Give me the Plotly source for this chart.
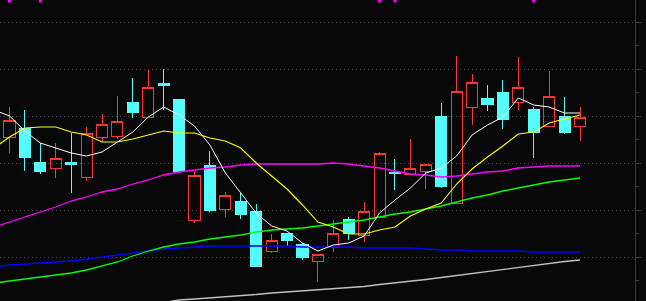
import plotly.graph_objects as go

# ---- data (price units) ----
days = list(range(38))
ma_days = list(range(-1, 38))

opens  = [18.3, 19.2, 15.8, 15.2, 15.8, 14.3, 18.3, 18.4, 21.8, 20.3,
          23.7, 22.1, 10.0, 15.5, 11.1, 11.9, 10.9, 6.9, 8.7, 7.6,
          5.9, 7.3, 10.1, 8.5, 10.3, 14.8, 14.6, 14.9, 20.4, 11.7,
          21.3, 22.2, 22.8, 21.8, 21.1, 19.4, 20.4, 19.4]
highs  = [21.3, 21.0, 17.7, 17.7, 18.7, 19.3, 20.6, 22.4, 24.2, 25.0,
          25.1, 22.1, 14.8, 16.9, 12.8, 12.7, 11.6, 8.6, 8.7, 7.7,
          6.6, 10.0, 10.3, 11.8, 16.8, 16.1, 18.1, 15.6, 21.7, 26.4,
          24.6, 23.5, 24.0, 26.3, 21.3, 24.9, 22.3, 21.3]
lows   = [16.7, 14.9, 14.6, 14.2, 12.7, 13.9, 17.8, 18.1, 20.2, 20.2,
          21.0, 14.7, 9.7, 10.8, 10.3, 10.1, 5.3, 6.7, 7.4, 6.0,
          3.8, 6.8, 8.0, 7.8, 10.3, 13.0, 14.6, 13.1, 13.2, 11.7,
          19.5, 20.9, 19.1, 21.0, 16.2, 19.4, 18.6, 17.9]
closes = [20.0, 16.3, 14.9, 16.2, 15.6, 18.7, 19.6, 19.9, 20.8, 23.3,
          23.5, 14.9, 14.5, 11.0, 12.5, 10.6, 5.4, 8.0, 8.0, 6.3,
          6.6, 8.7, 8.7, 10.9, 16.7, 14.7, 15.2, 15.6, 13.4, 22.9,
          23.8, 21.6, 20.1, 23.3, 18.8, 22.4, 18.8, 20.3]

ma5 = [21.0, 20.4, 18.9, 17.7, 17.2, 16.7, 16.4, 16.8, 17.8, 18.8, 20.3,
       21.3, 20.5, 19.4, 17.5, 14.7, 12.7, 10.7, 9.4, 8.9, 7.7,
       6.9, 7.5, 7.7, 8.4, 10.7, 12.0, 13.2, 14.7, 15.2, 16.4,
       18.5, 19.5, 20.3, 22.2, 21.5, 21.3, 20.7, 20.7]
ma10 = [17.2, 18.3, 19.2, 19.3, 19.3, 18.8, 18.5, 17.8, 17.8, 18.1, 18.5,
        18.9, 18.7, 18.7, 18.2, 17.9, 17.2, 15.7, 14.4, 13.1, 11.5,
        9.8, 9.3, 8.6, 8.6, 9.0, 9.3, 10.4, 11.1, 11.7, 13.6,
        15.1, 16.3, 17.4, 18.6, 18.8, 19.7, 20.1, 20.5]
ma20 = [9.3, 9.8, 10.3, 10.8, 11.3, 11.9, 12.3, 12.8, 13.1, 13.6, 14.0,
        14.5, 14.8, 15.0, 15.2, 15.3, 15.5, 15.6, 15.6, 15.6, 15.6,
        15.6, 15.7, 15.6, 15.4, 15.2, 14.9, 14.6, 14.5, 14.3, 14.4,
        14.6, 14.8, 14.9, 15.2, 15.3, 15.4, 15.4, 15.4]
ma60 = [3.7, 3.9, 4.1, 4.3, 4.5, 4.7, 5.0, 5.4, 5.8, 6.4, 6.9,
        7.3, 7.6, 7.8, 8.1, 8.3, 8.5, 8.8, 9.0, 9.1, 9.2,
        9.4, 9.6, 9.8, 10.0, 10.3, 10.6, 10.8, 11.1, 11.4, 11.8,
        12.2, 12.5, 12.9, 13.2, 13.5, 13.8, 14.0, 14.2]
ma120 = [5.3, 5.5, 5.6, 5.7, 5.8, 5.9, 6.1, 6.3, 6.5, 6.7, 6.9,
         7.1, 7.2, 7.3, 7.4, 7.4, 7.4, 7.4, 7.4, 7.4, 7.3,
         7.3, 7.3, 7.3, 7.2, 7.2, 7.2, 7.2, 7.1, 7.0, 7.0,
         6.9, 6.9, 6.9, 6.9, 6.8, 6.8, 6.8, 6.8]
ma250 = [None] * 11 + [1.75, 2.0, 2.1, 2.2, 2.3, 2.45, 2.55, 2.7, 2.8,
                       2.9, 3.0, 3.1, 3.2, 3.35, 3.55, 3.7, 3.85, 4.05, 4.25,
                       4.45, 4.65, 4.85, 5.1, 5.25, 5.5, 5.7, 5.85, 6.0]

signal_days = [0, 2, 24, 25, 34]
signal_level = [31.9, 31.9, 31.9, 31.9, 31.9]

# grid / tick levels
grid_start = 1.567
grid_step = 4.7

BG = "#080808"
RED = "#ff3535"
CYAN = "#54fcfc"

fig = go.Figure()
fig.add_trace(go.Candlestick(
    x=days, open=opens, high=highs, low=lows, close=closes,
    increasing=dict(line=dict(color=RED, width=1), fillcolor="rgba(0,0,0,0)"),
    decreasing=dict(line=dict(color=CYAN, width=1), fillcolor=CYAN),
    whiskerwidth=0, hoverinfo="skip", showlegend=False,
))

lines = [
    (ma250, "#c0c0c0", 1.3),
    (ma120, "#0000ff", 1.4),
    (ma60, "#00ff00", 1.3),
    (ma20, "#ff00ff", 1.3),
    (ma10, "#ffff00", 1.1),
    (ma5, "#ffffff", 1.0),
]
for vals, col, w in lines:
    fig.add_trace(go.Scatter(x=ma_days, y=vals, mode="lines",
                             line=dict(color=col, width=w),
                             hoverinfo="skip", showlegend=False,
                             connectgaps=False))

fig.add_trace(go.Scatter(x=signal_days, y=signal_level, mode="markers",
                         marker=dict(symbol="square", size=3, color="#ff00ff",
                                     line=dict(width=0)),
                         hoverinfo="skip", showlegend=False, cliponaxis=False))

fig.update_layout(
    width=646, height=301,
    margin=dict(l=0, r=11, t=0, b=0),
    paper_bgcolor=BG, plot_bgcolor=BG,
    boxgap=0.28, boxgroupgap=0,
    showlegend=False,
    xaxis=dict(range=[-0.616, 40.567], showgrid=False, zeroline=False,
               showticklabels=False, ticks="", showline=False,
               rangeslider=dict(visible=False), fixedrange=True),
    yaxis=dict(range=[1.9, 32.0], side="right", zeroline=False,
               showgrid=True, gridcolor="#4a4a4a", gridwidth=1,
               griddash="1px,3px",
               tick0=grid_start, dtick=grid_step,
               showticklabels=False, ticks="outside", ticklen=6,
               tickcolor="#3a3a3a", tickwidth=1,
               showline=True, linecolor="#3a3a3a", linewidth=1,
               minor=dict(tick0=grid_start, dtick=grid_step / 2, ticks="outside",
                          ticklen=3, tickcolor="#3a3a3a", showgrid=False),
               fixedrange=True),
)

crisp_js = (
    "document.querySelectorAll('.boxlayer path').forEach(function(p){"
    "p.style.shapeRendering='crispEdges';});"
)
fig.write_html("out.html", config={"displayModeBar": False}, post_script=crisp_js)
